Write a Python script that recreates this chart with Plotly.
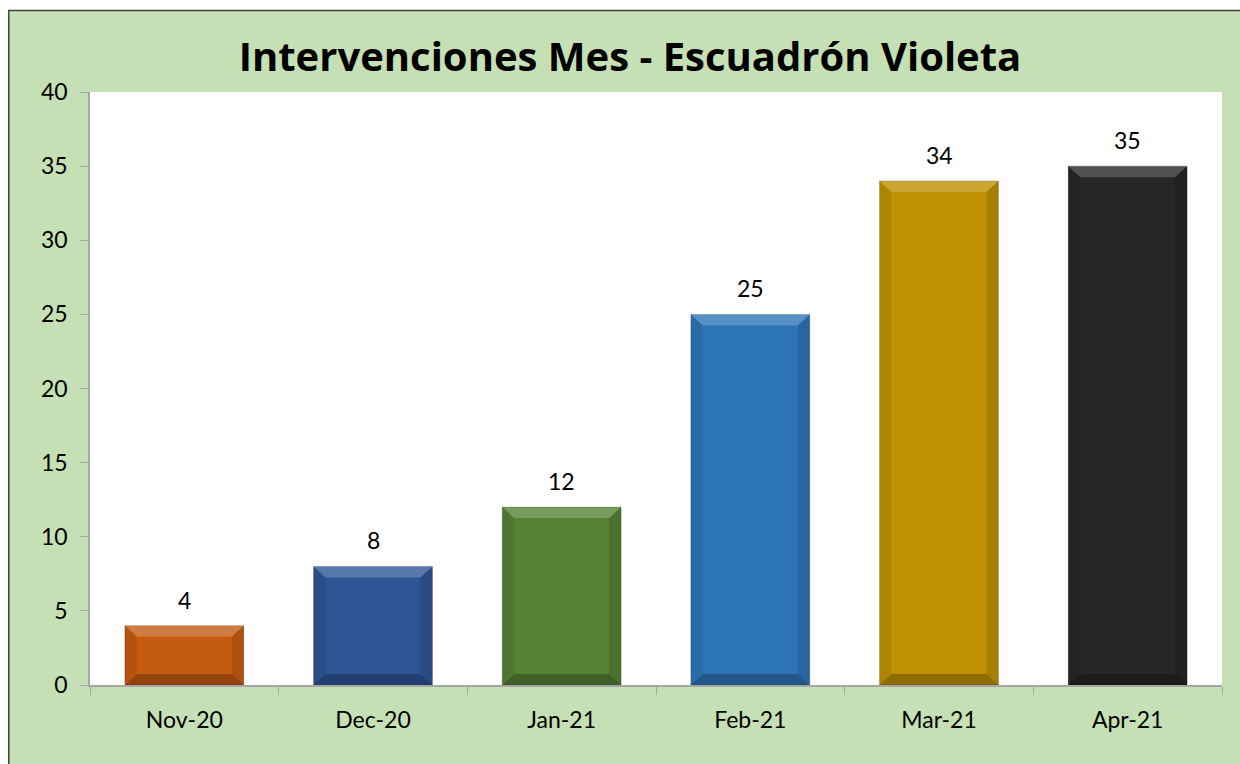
import plotly.graph_objects as go

months = ["Nov-20", "Dec-20", "Jan-21", "Feb-21", "Mar-21", "Apr-21"]
values = [4, 8, 12, 25, 34, 35]
colors = ["#C55A11", "#2F5597", "#548235", "#2E75B6", "#BF9000", "#262626"]
title_text = "Intervenciones Mes - Escuadrón Violeta"

W, H = 1240, 764
L, T = 90, 92
R = W - 1222
B = H - 685
pw, ph = W - L - R, H - T - B
ymax = 40
bargap = 0.37
bw = 1 - bargap
FONT = "Lato, Open Sans, sans-serif"

fig = go.Figure()
fig.add_trace(go.Bar(
    x=months, y=values,
    marker=dict(color=colors, line=dict(color="rgba(0,0,0,0.2)", width=1)),
    showlegend=False, hoverinfo="skip",
))

def px_x(p):
    return (p - L) / pw
def px_y(p):
    return (H - B - p) / ph

shapes = []
# white strips outside the green panel, and the panel border
shapes.append(dict(type="rect", xref="paper", yref="paper", layer="below",
                   x0=px_x(-10), x1=px_x(W + 10), y0=px_y(10), y1=px_y(-10),
                   fillcolor="#FFFFFF", line=dict(width=0)))
shapes.append(dict(type="rect", xref="paper", yref="paper", layer="below",
                   x0=px_x(-10), x1=px_x(8), y0=px_y(H + 10), y1=px_y(-10),
                   fillcolor="#FFFFFF", line=dict(width=0)))
shapes.append(dict(type="path", xref="paper", yref="paper", layer="below",
                   path=f"M {px_x(8.8)},{px_y(H + 10)} L {px_x(8.8)},{px_y(10.5)} L {px_x(W + 10)},{px_y(10.5)}",
                   line=dict(color="#404040", width=1.5)))

# bevel effect shapes derived from data
dx = 12 / (pw / len(months))
dy = 11 * ymax / ph
for i, v in enumerate(values):
    x0, x1 = i - bw / 2, i + bw / 2
    shapes.append(dict(type="path", xref="x", yref="y", layer="above", line=dict(width=0),
                       fillcolor="rgba(255,255,255,0.20)",
                       path=f"M {x0},{v} L {x1},{v} L {x1-dx},{v-dy} L {x0+dx},{v-dy} Z"))
    shapes.append(dict(type="path", xref="x", yref="y", layer="above", line=dict(width=0),
                       fillcolor="rgba(0,0,0,0.25)",
                       path=f"M {x0},0 L {x1},0 L {x1-dx},{dy} L {x0+dx},{dy} Z"))
    shapes.append(dict(type="path", xref="x", yref="y", layer="above", line=dict(width=0),
                       fillcolor="rgba(0,0,0,0.08)",
                       path=f"M {x0},0 L {x0+dx},{dy} L {x0+dx},{v-dy} L {x0},{v} Z"))
    shapes.append(dict(type="path", xref="x", yref="y", layer="above", line=dict(width=0),
                       fillcolor="rgba(0,0,0,0.12)",
                       path=f"M {x1},0 L {x1-dx},{dy} L {x1-dx},{v-dy} L {x1},{v} Z"))

annotations = [dict(x=m, y=v, xref="x", yref="y", text=str(v), showarrow=False,
                    yanchor="bottom", yshift=10,
                    font=dict(family=FONT, size=23, color="#000000"))
               for m, v in zip(months, values)]

fig.update_layout(
    width=W, height=H,
    margin=dict(l=L, r=R, t=T, b=B, pad=0),
    paper_bgcolor="#C5E0B4", plot_bgcolor="#FFFFFF",
    bargap=bargap,
    title=dict(text=f"<b>{title_text}</b>", x=630 / W, xref="container", xanchor="center",
               y=1 - 57 / H, yanchor="middle",
               font=dict(family="Open Sans, sans-serif", size=40, color="#000000")),
    xaxis=dict(type="category", showgrid=False, showline=True, linecolor="#A6A6A6", linewidth=1.5,
               ticks="outside", tickson="boundaries", ticklen=8, tickcolor="#A6A6A6",
               ticklabelstandoff=14,
               tickfont=dict(family=FONT, size=23, color="#000000"),
               zeroline=False),
    yaxis=dict(range=[0, ymax], dtick=5, showgrid=False, showline=True, linecolor="#A6A6A6",
               linewidth=1.5, ticks="outside", ticklen=8, tickcolor="#A6A6A6",
               ticklabelstandoff=8,
               tickfont=dict(family=FONT, size=23, color="#000000"),
               zeroline=False),
    shapes=shapes,
    annotations=annotations,
    font=dict(family=FONT),
)

fig.write_html("out.html",
               config={"displayModeBar": False},
               post_script=("document.documentElement.style.overflow='hidden';"
                            "document.body.style.margin='0';document.body.style.overflow='hidden';"))
